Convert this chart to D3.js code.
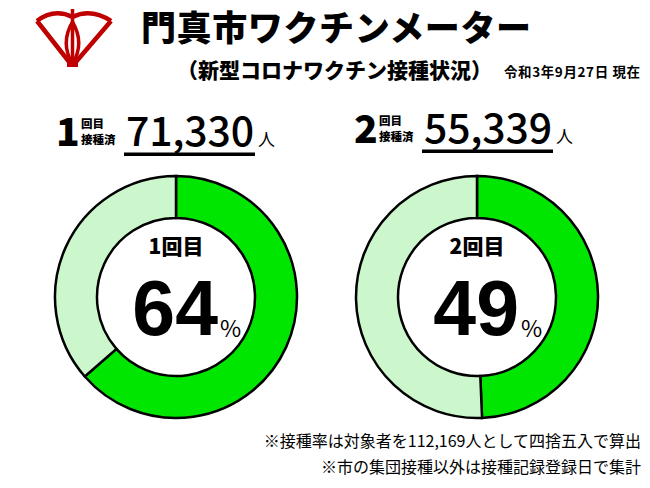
<!DOCTYPE html>
<html><head><meta charset="utf-8">
<script src="https://cdn.jsdelivr.net/npm/d3@7/dist/d3.min.js"></script>
<style>
html,body{margin:0;padding:0;background:#fff;}
svg{display:block;font-family:"Noto Sans CJK JP","Noto Sans",sans-serif;}
</style></head>
<body><svg id="c" width="650" height="488"></svg>
<script>
// ---- data ----
const title = "門真市ワクチンメーター";
const subtitle = "（新型コロナワクチン接種状況）";
const asOf = "令和3年9月27日 現在";
const doseNumbers = ["1", "2"];
const doseLabels = ["1回目", "2回目"];
const vaccinated = [71330, 55339];
const targetPopulation = 112169;
const ratePercent = [64, 49];
const notes = ["※接種率は対象者を112,169人として四捨五入で算出", "※市の集団接種以外は接種記録登録日で集計"];

const svg = d3.select("#c");

// logo
const logo = svg.append("g").attr("fill","none").attr("stroke","#c00000").attr("stroke-width",4.5).attr("stroke-linejoin","round");
logo.append("path").attr("d","M37,21 Q54,8 72.5,17 Q91,8 111,21");
logo.append("path").attr("d","M37,21 L70,63 M111,21 L75,63");
logo.append("path").attr("d","M72.5,22 Q85,43 72.5,64 Q60,43 72.5,22 Z").attr("stroke-width",3.5);
logo.append("path").attr("d","M72.5,9 L72.5,65").attr("stroke-width",3.5);
logo.append("rect").attr("x",67).attr("y",63).attr("width",11).attr("height",4).attr("fill","#c00000").attr("stroke","none");

// titles
svg.append("text").attr("x",141).attr("y",41).attr("font-size",35).attr("font-weight",900).attr("textLength",390).text(title);
svg.append("text").attr("x",177).attr("y",78).attr("font-size",21).attr("font-weight",900).text(subtitle);
svg.append("text").attr("x",640).attr("y",77).attr("text-anchor","end").attr("font-size",13.5).attr("font-weight",700).attr("textLength",136).text(asOf);

// donuts
const centers = [176, 477];
const cx = d3.scaleOrdinal().domain(doseLabels).range(centers);
const pie = d3.pie().sort(null);
const arc = d3.arc().innerRadius(79).outerRadius(121);
const colors = ["#00e600", "#ccf6cc"];
const cy = 297;

doseLabels.forEach((lab, i) => {
  const x0 = cx(lab);
  const g = svg.append("g").attr("transform", `translate(${x0},${cy})`);
  g.selectAll("path").data(pie([vaccinated[i], targetPopulation - vaccinated[i]])).join("path")
    .attr("d", arc).attr("fill", (d, j) => colors[j]).attr("stroke", "#000").attr("stroke-width", 2.5);
  g.append("text").attr("x",0).attr("y",-43).attr("text-anchor","middle").attr("font-size",21).attr("font-weight",900).text(lab);
  g.append("text").attr("x",42).attr("y",38).attr("text-anchor","end").attr("font-family","'Liberation Sans',Arial,sans-serif").attr("font-size",77).attr("font-weight",700).text(ratePercent[i]);
  g.append("text").attr("x",44).attr("y",40).attr("font-size",23).text("%");

  // header counts
  const hy = i === 0 ? 0 : -3;
  const hx = i === 0 ? 0 : 298;
  const h = svg.append("g").attr("transform", `translate(${hx},${hy})`);
  h.append("text").attr("x",56).attr("y",146).attr("font-size",39).attr("font-weight",900).text(doseNumbers[i]);
  h.append("text").attr("x",81).attr("y",128).attr("font-size",11.5).attr("font-weight",900).text("回目");
  h.append("text").attr("x",81).attr("y",144).attr("font-size",11.5).attr("font-weight",900).text("接種済");
  h.append("text").attr("x",126).attr("y",146).attr("font-size",41).attr("font-weight",500).attr("textLength",128).text(d3.format(",")(vaccinated[i]));
  h.append("rect").attr("x",124).attr("y",152.5).attr("width",131).attr("height",3.5).attr("fill","#000");
  h.append("text").attr("x",258).attr("y",146).attr("font-size",17).text("人");
});

// notes
notes.forEach((t, i) => {
  svg.append("text").attr("x",641).attr("y",447 + i*26).attr("text-anchor","end").attr("font-size",16).text(t);
});
</script></body></html>
